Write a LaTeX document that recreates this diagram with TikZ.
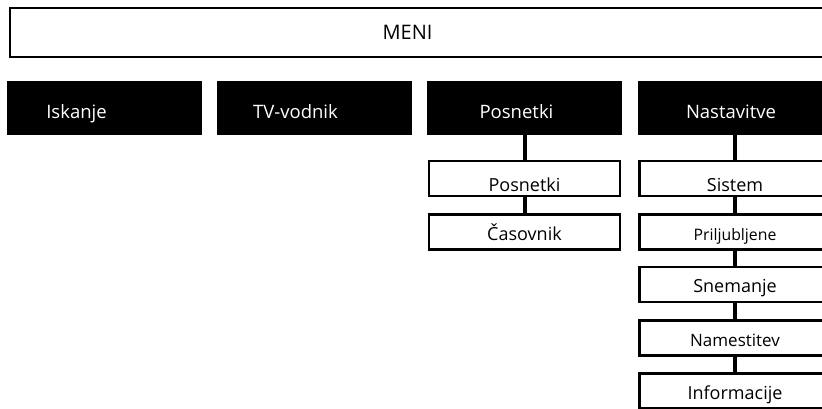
\documentclass[tikz,border=0pt]{standalone}
\usepackage{fontspec}
\setmainfont{Open Sans}

\tikzset{
    menubox/.style={draw=black, line width=2.4pt, minimum width=829pt, minimum height=48.6pt, inner sep=0pt},
    headbox/.style={fill=black, minimum width=195pt, minimum height=54pt, inner sep=0pt},
    headtext/.style={text=white, font=\fontsize{18.5}{22}\selectfont, text height=20pt, text depth=0pt, inner sep=0pt},
    subbox/.style={draw=black, line width=2.4pt, fill=white, minimum width=191pt, minimum height=35pt, inner sep=0pt,
        text height=16pt, text depth=0pt, font=\fontsize{18}{22}\selectfont},
    firstrow/.style={text height=26pt},
    link/.style={line width=4pt}
}

\begin{document}
\begin{tikzpicture}[x=1pt, y=-1pt]
    \useasboundingbox (0,0) rectangle (822,408);
    \clip (0,0) rectangle (822,408);
    \fill[white] (0,0) rectangle (822,408);

    % top bar
    \node[menubox, label={[xshift=-17pt, font=\fontsize{20}{24}\selectfont]center:MENI}] (meni) at (424.5,32.5) {};

    % main entries
    \node[headbox, label={[headtext, xshift=-28pt]center:Iskanje}] (iskanje) at (104.5,108) {};
    \node[headbox, label={[headtext, xshift=-19pt]center:TV-vodnik}] (tvvodnik) at (314.5,108) {};
    \node[headbox, label={[headtext, xshift=-8pt]center:Posnetki}] (posnetki) at (524.5,108) {};
    \node[headbox, label={[headtext, xshift=-4pt]center:Nastavitve}] (nastavitve) at (735,108) {};

    % Posnetki column
    \node[subbox, firstrow] (posn) at (524.5,178.5) {Posnetki};
    \node[subbox] (casovnik) at (524.5,232) {Časovnik};

    % Nastavitve column
    \node[subbox, firstrow] (sistem) at (735,178.5) {Sistem};
    \node[subbox, font=\fontsize{15.8}{20}\selectfont] (priljubljene) at (735,232) {Priljubljene};
    \node[subbox] (snemanje) at (735,284.5) {Snemanje};
    \node[subbox, font=\fontsize{17}{20}\selectfont] (namestitev) at (735,338) {Namestitev};
    \node[subbox] (informacije) at (735,391) {Informacije};

    \draw[link] (posnetki.south) -- (posn.north);
    \draw[link] (posn.south) -- (casovnik.north);
    \draw[link] (nastavitve.south) -- (sistem.north);
    \draw[link] (sistem.south) -- (priljubljene.north);
    \draw[link] (priljubljene.south) -- (snemanje.north);
    \draw[link] (snemanje.south) -- (namestitev.north);
    \draw[link] (namestitev.south) -- (informacije.north);
\end{tikzpicture}
\end{document}
